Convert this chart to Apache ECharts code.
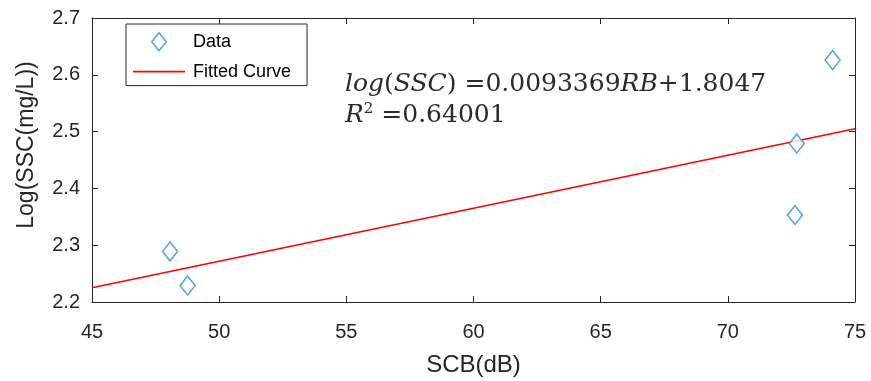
<!DOCTYPE html>
<html>
<head>
<meta charset="utf-8">
<script src="https://cdn.jsdelivr.net/npm/echarts@6/dist/echarts.min.js"></script>
<style>
  html, body { margin: 0; padding: 0; background: #fff; }
  #chart { width: 871px; height: 381px; }
</style>
</head>
<body>
<div id="chart"></div>
<script>
// measured points (SCB in dB, log of SSC)
const scbValues = [48.07, 48.76, 72.64, 72.71, 74.12];
const logSscValues = [2.289, 2.229, 2.353, 2.479, 2.626];
// fitted line end points
const fitX = [45, 75];
const fitY = [2.2249, 2.5050];

const axisColor = '#262626';
const fontFam = 'Liberation Sans, Arial, sans-serif';
const mathFont = 'DejaVu Serif, serif';

const chart = echarts.init(document.getElementById('chart'), null, { renderer: 'canvas' });

const xBase = {
  type: 'value', min: 45, max: 75, interval: 5,
  axisLine: { show: true, lineStyle: { color: axisColor, width: 1 } },
  axisTick: { show: true, inside: true, length: 6, lineStyle: { color: axisColor } },
  splitLine: { show: false }
};
const yBase = {
  type: 'value', min: 2.2, max: 2.7, interval: 0.1,
  axisLine: { show: true, lineStyle: { color: axisColor, width: 1 } },
  axisTick: { show: true, inside: true, length: 6, lineStyle: { color: axisColor } },
  splitLine: { show: false }
};

const option = {
  animation: false,
  backgroundColor: '#fff',
  grid: { left: 92, right: 16, top: 18, bottom: 79, containLabel: false, outerBoundsMode: 'none' },
  xAxis: [
    Object.assign({}, xBase, {
      position: 'bottom',
      name: 'SCB(dB)', nameLocation: 'middle', nameGap: 51,
      nameTextStyle: { color: axisColor, fontSize: 24, fontFamily: fontFam },
      axisLabel: { color: axisColor, fontSize: 20, fontFamily: fontFam, margin: 20 }
    }),
    Object.assign({}, xBase, { position: 'top', axisLabel: { show: false } })
  ],
  yAxis: [
    Object.assign({}, yBase, {
      position: 'left',
      name: 'Log(SSC(mg/L))', nameLocation: 'middle', nameGap: 54,
      nameTextStyle: { color: axisColor, fontSize: 23, fontFamily: fontFam, padding: [0, 0, 0, 30] },
      axisLabel: { color: axisColor, fontSize: 20, fontFamily: fontFam, margin: 12,
        formatter: v => v.toFixed(1) }
    }),
    Object.assign({}, yBase, { position: 'right', axisLabel: { show: false } })
  ],
  legend: {
    left: 126, top: 24, orient: 'vertical',
    backgroundColor: '#fff',
    borderColor: axisColor, borderWidth: 1, borderRadius: 0,
    padding: [8, 16, 5, 7],
    itemWidth: 52, itemHeight: 18, itemGap: 11,
    textStyle: { color: '#000', fontSize: 18, lineHeight: 18, fontFamily: fontFam, padding: [0, 0, 0, 3] },
    data: [
      { name: 'Data', icon: 'path://M5,0L10,6.2L5,12.4L0,6.2Z',
        itemStyle: { color: '#fff', borderColor: '#2f8fd6', borderWidth: 1.6 } },
      { name: 'Fitted Curve', icon: 'path://M0,0H52V1.6H0Z',
        itemStyle: { color: '#ff0000', borderWidth: 0 } }
    ]
  },
  series: [
    {
      name: 'Data', type: 'scatter',
      symbol: 'diamond', symbolSize: [15, 19],
      itemStyle: { color: '#fff', borderColor: '#2f8fd6', borderWidth: 1.6 },
      data: scbValues.map((x, i) => [x, logSscValues[i]]),
      z: 3
    },
    {
      name: 'Fitted Curve', type: 'line',
      symbol: 'none', showSymbol: false,
      lineStyle: { color: '#ff0000', width: 1.5 },
      itemStyle: { color: '#ff0000' },
      data: fitX.map((x, i) => [x, fitY[i]]),
      z: 2
    }
  ],
  graphic: [
    {
      type: 'text', left: 345, top: 72,
      style: {
        text: '{i|log}{n|(}{i|SSC}{n|) =0.0093369}{i|RB}{n|+1.8047}',
        rich: {
          i: { fontFamily: mathFont, fontStyle: 'italic', fontSize: 25, fill: '#2a2a2a' },
          n: { fontFamily: mathFont, fontSize: 25, fill: '#2a2a2a' }
        }
      }
    },
    {
      type: 'text', left: 345, top: 102,
      style: {
        text: '{i|R}{s|2}{n| =0.64001}',
        rich: {
          i: { fontFamily: mathFont, fontStyle: 'italic', fontSize: 25, fill: '#2a2a2a' },
          s: { fontFamily: mathFont, fontSize: 15, fill: '#2a2a2a', verticalAlign: 'top', padding: [0, 0, 11, 0] },
          n: { fontFamily: mathFont, fontSize: 25, fill: '#2a2a2a' }
        }
      }
    }
  ]
};

chart.setOption(option);
</script>
</body>
</html>
